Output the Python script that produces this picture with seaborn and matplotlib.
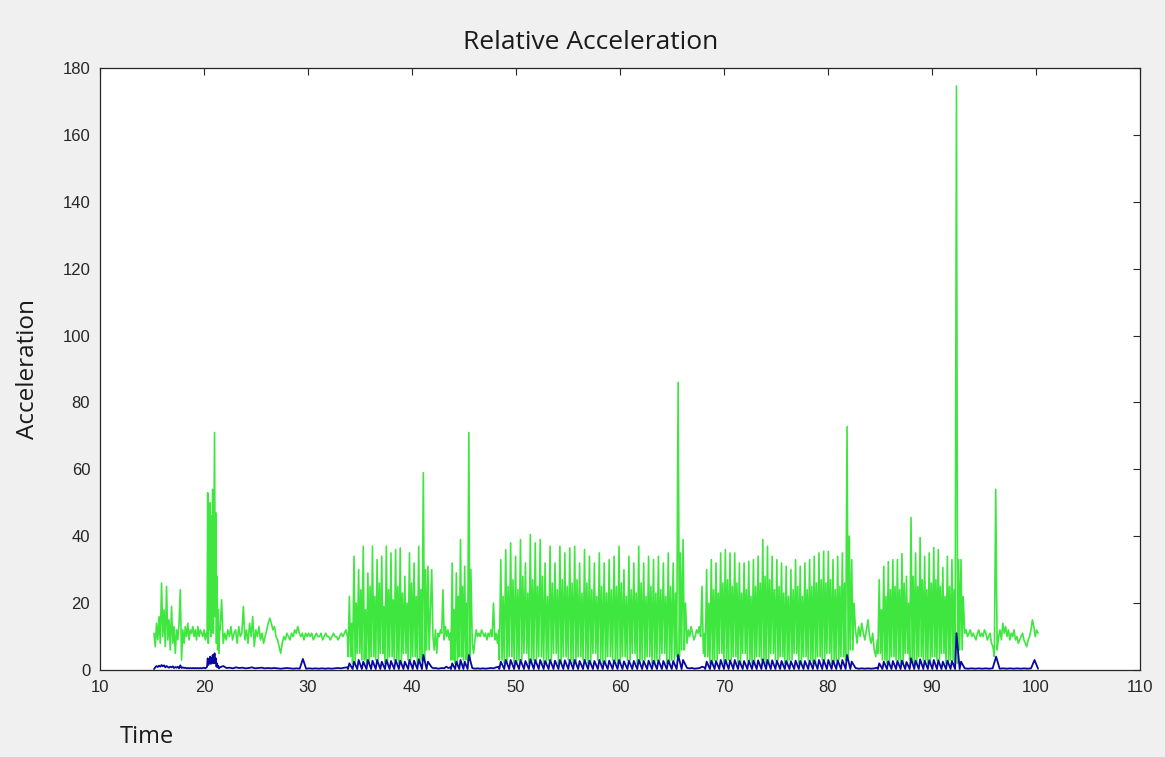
import numpy as np
import pandas as pd
import matplotlib
matplotlib.use("Agg")
import matplotlib.pyplot as plt
import seaborn as sns

# ---------------- data ----------------
# quiet stretches of the green trace: start time, end time, values
q1_span = [15.2, 20.25]
q1_vals = [11, 7, 14, 9, 16, 8, 26, 10, 18, 7, 25, 9, 15, 6, 19, 8, 13, 5, 12, 9,
           14, 24, 3, 12, 8, 13, 10, 14, 9, 12, 11, 13, 10, 12, 9, 13, 10, 12, 11,
           10, 12, 9, 11]
q2_span = [20.3, 21.5]
q2_vals = [10, 53, 8, 42, 12, 50, 10, 46, 14, 54, 11, 40, 71, 16, 47, 8, 28, 6, 18, 5, 12]
q3_span = [21.55, 33.8]
q3_vals = [12, 21, 8, 11, 9, 12, 10, 13, 9, 11, 12, 8, 13, 10, 11, 19, 9, 12, 8, 14,
           10, 16, 7, 12, 10, 13, 9, 11, 8, 10, 12, 14, 15.5, 14, 12, 13, 10, 9, 7, 5,
           8, 10, 9, 11, 10, 9, 11, 10, 12, 11, 13, 11, 10, 11, 9, 11, 10, 11, 10, 11,
           9, 10, 11, 10, 10, 11, 9, 10, 11, 10, 10, 9, 10, 11, 10, 10, 9, 10, 11, 10,
           11, 12, 10]
q4_span = [41.9, 43.7]
q4_vals = [30, 10, 6, 12, 5, 11, 10, 12, 11, 24, 9, 13, 10, 12, 9, 11]
q5_span = [45.8, 48.35]
q5_vals = [8, 5, 9, 12, 10, 11, 10, 12, 11, 10, 11, 9, 11, 10, 12, 10, 20, 9, 11, 8, 12]
q6_span = [66.45, 68.15]
q6_vals = [8, 12, 10, 13, 11, 9, 10, 12, 11, 13, 10, 25, 5, 11]
q7_span = [82.65, 84.75]
q7_vals = [12, 8, 13, 10, 14, 11, 9, 12, 15, 10, 8, 11, 6, 4, 9]
q8_span = [93.15, 100.2]
q8_vals = [11, 12, 10, 11, 12, 10, 11, 10, 9, 11, 12, 10, 11, 10, 12, 11, 9, 10, 11,
           8, 7, 4, 54, 6, 10, 12, 9, 14, 11, 13, 10, 12, 9, 11, 10, 12, 9, 10, 8, 9,
           10, 11, 9, 8, 7, 9, 10, 12, 15, 13, 10, 12, 11]

# oscillating bursts of the green trace: span, peak values, secondary peaks, troughs
b1_span = [33.85, 41.85]
b1_peaks = [22, 34, 30, 37, 29, 37, 33, 34, 37, 35, 36, 36.5, 28, 35, 32, 37, 59, 31]
b1_subs = [14, 20, 24, 18, 25, 22, 26, 19, 24, 21, 25, 23, 20, 26, 22, 24, 30, 16]
b1_lows = [4, 2, 5, 3, 2, 4, 3, 5, 2, 4, 3, 2, 5, 3, 4, 2, 3, 6]
b2_span = [43.75, 45.75]
b2_peaks = [32, 29, 39, 31, 71]
b2_subs = [18, 22, 25, 20, 30]
b2_lows = [3, 2, 4, 3, 3]
b3_span = [48.4, 66.4]
b3_peaks = [33, 36, 38, 34, 39, 32, 40.5, 38, 39, 32, 37, 32, 37, 35, 36.5, 37, 32, 36,
            34, 32, 35, 32, 33, 34, 37, 30, 34, 32, 37, 32, 34, 33, 34, 32, 35, 32, 86, 39]
b3_subs = [22, 25, 27, 24, 28, 23, 27, 25, 28, 22, 26, 24, 27, 25, 26, 27, 23, 26, 24,
           22, 25, 23, 24, 25, 26, 22, 24, 23, 26, 22, 25, 23, 24, 22, 25, 23, 35, 20]
b3_lows = [3, 2, 4, 2, 3, 5, 2, 3, 4, 2, 3, 5, 2, 4, 3, 2, 4, 3, 2, 5, 3, 2, 4, 3, 2,
           4, 3, 5, 2, 3, 4, 2, 3, 5, 2, 3, 4, 6]
b4_span = [68.2, 82.6]
b4_peaks = [30, 33, 32, 35, 36, 35, 35, 32, 32, 32.5, 33, 34, 39, 37, 34, 33, 32, 31,
            30, 33, 31, 32, 33, 34, 35, 35.5, 35.5, 33, 34, 35, 72.8, 33]
b4_subs = [20, 24, 23, 26, 27, 25, 26, 23, 24, 22, 25, 26, 28, 27, 24, 25, 23, 22, 24,
           25, 22, 24, 25, 26, 27, 26, 27, 24, 25, 26, 40, 20]
b4_lows = [4, 2, 3, 5, 2, 3, 4, 2, 5, 3, 2, 4, 3, 2, 5, 3, 4, 2, 3, 5, 2, 4, 3, 2, 4,
           3, 5, 2, 3, 4, 3, 6]
b5_span = [84.8, 93.1]
b5_peaks = [27, 31, 32.4, 33, 33, 34.8, 28, 45.6, 35, 39.6, 34, 35, 36.6, 36, 30.6, 34,
            33, 174.6, 33]
b5_subs = [18, 22, 24, 25, 24, 26, 20, 28, 25, 27, 24, 26, 27, 25, 22, 25, 24, 33, 22]
b5_lows = [5, 3, 2, 4, 3, 2, 5, 3, 2, 4, 3, 2, 4, 3, 5, 2, 3, 2, 6]

# blue trace
blue_floor = 0.3
bq1_vals = [0.3, 0.8, 1.2, 0.9, 1.3, 1.0, 1.5, 1.1, 1.4, 0.8, 1.2, 0.9, 0.7, 1.0, 0.8,
            1.1, 0.6, 0.9, 0.7, 1.0, 0.5, 1.4, 0.6, 0.8, 0.6, 0.7, 0.5, 0.6, 0.5, 0.6,
            0.5, 0.6, 0.5, 0.6, 0.5, 0.6, 0.5, 0.6, 0.5, 0.6, 0.7, 0.5, 0.8]
bq2_vals = [1.0, 3.5, 1.5, 3.0, 2.0, 4.0, 1.8, 3.5, 2.2, 4.5, 2.0, 3.0, 5.0, 2.0, 3.5,
            1.0, 2.0, 0.8, 1.2, 0.5, 0.7]
bq3_vals = [0.8, 1.2, 0.6, 0.7, 0.5, 0.8, 0.6, 0.7, 0.5, 0.6, 0.8, 0.5, 0.6, 0.7, 0.5,
            0.6, 0.5, 0.6, 0.5, 0.4, 0.5, 0.6, 0.5, 0.4, 0.5, 0.4, 3.3, 0.4, 0.5, 0.4,
            0.5, 0.4, 0.5, 0.4, 0.5, 0.4, 0.5, 0.6, 0.5, 0.7, 0.8]
bq4_vals = [0.8, 0.5, 0.6, 0.4, 0.5, 0.6, 0.5, 1.0, 0.6, 0.8]
bq5_vals = [0.6, 0.4, 0.5, 0.4, 0.5, 0.4, 0.5, 0.6, 0.5, 0.8, 1.0]
bq6_vals = [0.6, 0.5, 0.6, 0.4, 0.5, 0.6, 1.0, 0.7]
bq7_vals = [0.6, 0.4, 0.5, 0.4, 0.5, 0.4, 0.5, 0.7]
bq8_vals = [0.5, 0.4, 0.5, 0.4, 0.5, 0.4, 0.5, 0.4, 0.5, 4.0, 0.4, 0.5, 0.4, 0.5, 0.4,
            0.5, 0.4, 0.5, 0.4, 0.5, 3.0, 0.4]
bb1_peaks = [2, 2.5, 3, 2.5, 3, 2.8, 3, 2.5, 3, 2.7, 3, 2.8, 2.5, 3, 2.8, 3.2, 4.5, 2.5]
bb2_peaks = [2, 2.5, 3, 2.5, 4.5]
bb3_peaks = [2.5, 3, 3, 2.8, 3, 2.7, 3.2, 3, 3, 2.7, 3, 2.8, 3, 2.9, 3, 3, 2.7, 3, 2.8,
             2.7, 3, 2.7, 2.8, 2.9, 3, 2.6, 2.8, 2.7, 3, 2.7, 2.8, 2.8, 2.9, 2.7, 2.9,
             2.7, 4.5, 3]
bb4_peaks = [2.5, 2.8, 2.7, 3, 3, 2.9, 3, 2.7, 2.7, 2.8, 2.8, 2.9, 3.2, 3, 2.9, 2.8,
             2.7, 2.7, 2.6, 2.8, 2.7, 2.7, 2.8, 2.9, 3, 3, 3, 2.8, 2.9, 3, 4.5, 2.5]
bb5_peaks = [2, 2.5, 2.6, 2.7, 2.7, 2.8, 2.4, 3.5, 2.8, 3.2, 2.8, 2.9, 3, 2.9, 2.5, 2.8,
             2.7, 11, 2.5]

x_ticks = [10, 20, 30, 40, 50, 60, 70, 80, 90, 100, 110]
y_ticks = [0, 20, 40, 60, 80, 100, 120, 140, 160, 180]


# ---------------- assemble traces ----------------
def quiet(span, vals):
    return list(np.linspace(span[0], span[1], len(vals))), list(vals)


def burst(span, peaks, subs, lows):
    edges = np.linspace(span[0], span[1], len(peaks) + 1)
    ts, vs = [], []
    for i in range(len(peaks)):
        a, w = edges[i], edges[i + 1] - edges[i]
        ts += [a, a + 0.3 * w, a + 0.55 * w, a + 0.78 * w]
        vs += [lows[i], peaks[i], lows[i], subs[i]]
    return ts, vs


def blue_burst(span, peaks):
    edges = np.linspace(span[0], span[1], len(peaks) + 1)
    ts, vs = [], []
    for i in range(len(peaks)):
        a, w = edges[i], edges[i + 1] - edges[i]
        ts += [a, a + 0.3 * w]
        vs += [blue_floor, peaks[i]]
    return ts, vs


green_parts = [quiet(q1_span, q1_vals), quiet(q2_span, q2_vals), quiet(q3_span, q3_vals),
               burst(b1_span, b1_peaks, b1_subs, b1_lows), quiet(q4_span, q4_vals),
               burst(b2_span, b2_peaks, b2_subs, b2_lows), quiet(q5_span, q5_vals),
               burst(b3_span, b3_peaks, b3_subs, b3_lows), quiet(q6_span, q6_vals),
               burst(b4_span, b4_peaks, b4_subs, b4_lows), quiet(q7_span, q7_vals),
               burst(b5_span, b5_peaks, b5_subs, b5_lows), quiet(q8_span, q8_vals)]
blue_parts = [quiet(q1_span, bq1_vals), quiet(q2_span, bq2_vals), quiet(q3_span, bq3_vals),
              blue_burst(b1_span, bb1_peaks), quiet(q4_span, bq4_vals),
              blue_burst(b2_span, bb2_peaks), quiet(q5_span, bq5_vals),
              blue_burst(b3_span, bb3_peaks), quiet(q6_span, bq6_vals),
              blue_burst(b4_span, bb4_peaks), quiet(q7_span, bq7_vals),
              blue_burst(b5_span, bb5_peaks), quiet(q8_span, bq8_vals)]

green = pd.DataFrame({"Time": sum([p[0] for p in green_parts], []),
                      "Acceleration": sum([p[1] for p in green_parts], [])})
blue = pd.DataFrame({"Time": sum([p[0] for p in blue_parts], []),
                     "Acceleration": sum([p[1] for p in blue_parts], [])})

# ---------------- draw ----------------
sns.set_theme(style="white")
plt.rcParams["font.family"] = ["Liberation Sans", "DejaVu Sans"]

fig = plt.figure(figsize=(11.65, 7.57), dpi=100, facecolor="#f0f0f0")
ax = fig.add_axes([0.0858, 0.1149, 0.8927, 0.7953])
ax.set_facecolor("white")

sns.lineplot(data=green, x="Time", y="Acceleration", sort=False, estimator=None,
             color="#40e640", linewidth=1.2, ax=ax)
sns.lineplot(data=blue, x="Time", y="Acceleration", sort=False, estimator=None,
             color="#0808a0", linewidth=1.3, ax=ax)

ax.set_xlim(10, 110)
ax.set_ylim(0, 180)
ax.set_xticks(x_ticks)
ax.set_yticks(y_ticks)
ax.tick_params(direction="in", length=5, width=0.8, top=True, right=True,
               labelsize=12, colors="#262626", pad=7)
for s in ax.spines.values():
    s.set_visible(True)
    s.set_color("#262626")
    s.set_linewidth(0.9)

ax.set_xlabel("")
ax.set_ylabel("Acceleration", family=["Open Sans", "DejaVu Sans"], fontsize=17.5,
              color="#1a1a1a")
ax.yaxis.set_label_coords(-0.058, 0.5)
ax.set_title("Relative Acceleration", family=["Open Sans", "DejaVu Sans"], fontsize=19,
             color="#1a1a1a", pad=14, x=0.472)
fig.text(0.103, 0.018, "Time", family=["Open Sans", "DejaVu Sans"], fontsize=17,
         color="#1a1a1a")

fig.savefig("out.png", dpi=100, facecolor=fig.get_facecolor())
